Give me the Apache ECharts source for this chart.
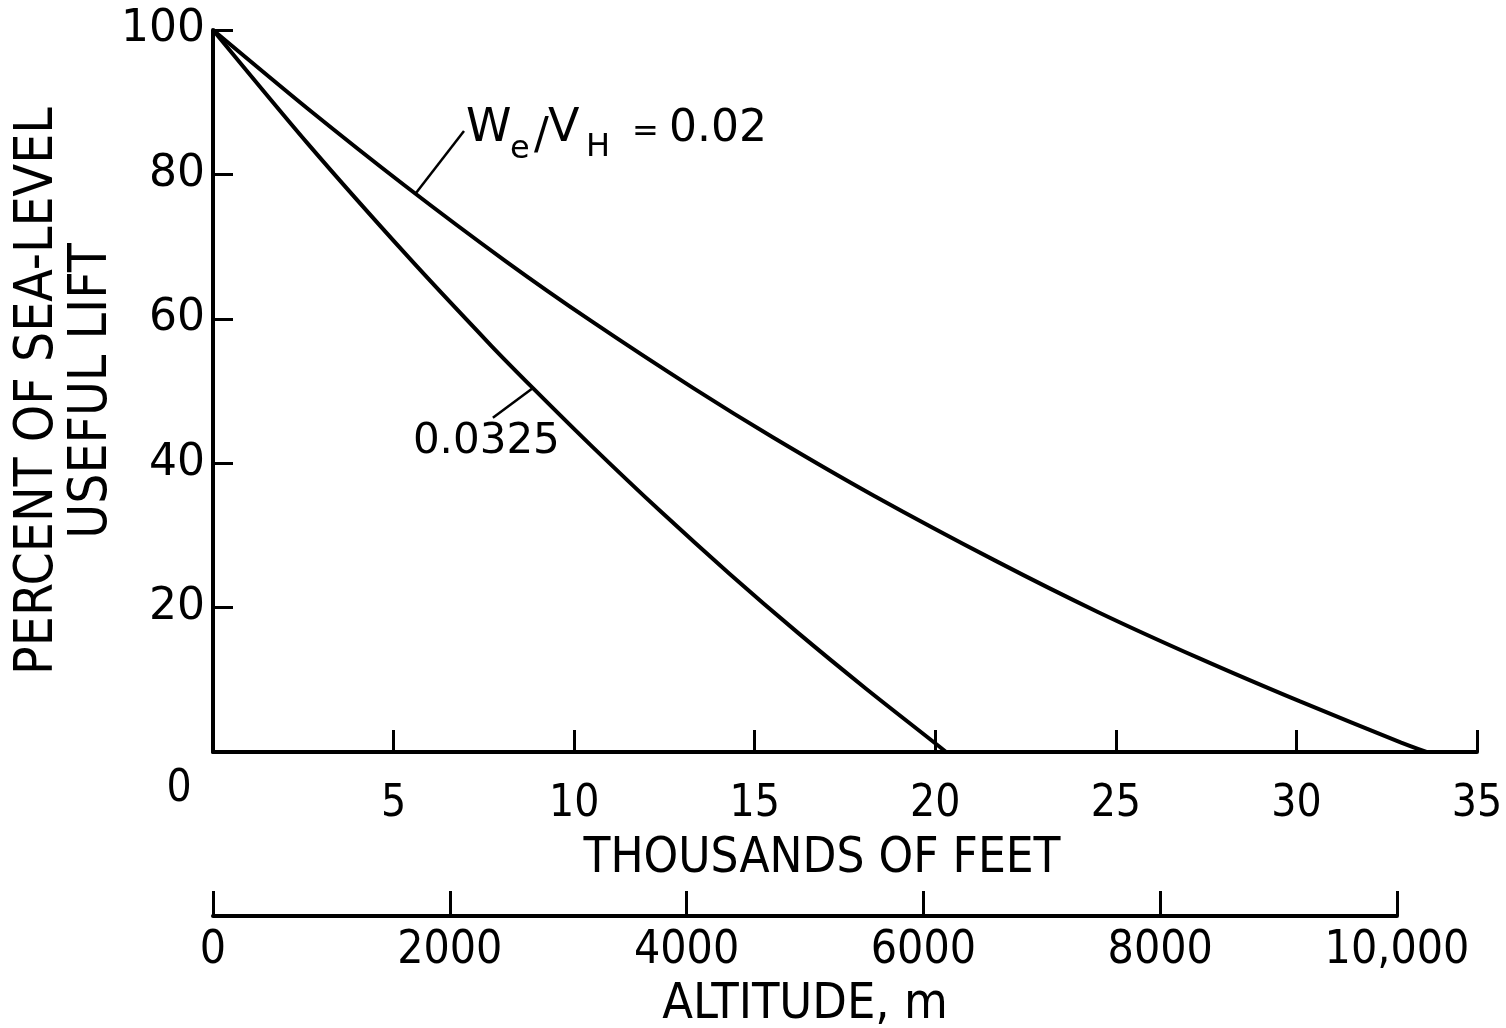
<!DOCTYPE html>
<html>
<head>
<meta charset="utf-8">
<script src="https://cdn.jsdelivr.net/npm/echarts@6/dist/echarts.min.js"></script>
<style>
  html, body { margin: 0; padding: 0; background: #fff; }
  #chart { width: 1506px; height: 1028px; }
</style>
</head>
<body>
<div id="chart"></div>
<script>
// ---- Data (altitude in thousands of feet, % of sea-level useful lift)
const altitude002 = [0, 2.6, 5.3, 8.1, 10.5, 13.3, 15.5, 18.3, 21.7, 24.5, 27.3, 30.1, 32.9, 33.6];
const lift002     = [100, 89.2, 78.5, 68.0, 59.6, 50.4, 43.6, 35.5, 26.4, 19.4, 13.0, 7.0, 1.3, 0];
const altitude0325 = [0, 2.6, 5.4, 7.7, 8.86, 10.5, 12.4, 14.3, 16.2, 18.1, 19.9, 20.3];
const lift0325     = [100, 84.4, 68.6, 56.3, 50.4, 42.3, 33.3, 24.7, 16.5, 8.7, 1.6, 0];

// ---- Axis ticks
const liftTicks = [0, 20, 40, 60, 80, 100];
const feetTicks = [0, 5, 10, 15, 20, 25, 30, 35];
const meterTicks = [0, 2000, 4000, 6000, 8000, 10000];
const meterTickLabels = ['0', '2000', '4000', '6000', '8000', '10,000'];

// ---- Text
const yTitle = 'PERCENT OF SEA-LEVEL\nUSEFUL LIFT';
const feetTitle = 'THOUSANDS OF FEET';
const meterTitle = 'ALTITUDE, m';
const label0325 = '0.0325';

const pairs = (xs, ys) => xs.map((x, i) => [x, ys[i]]);

const NARROW = "'DejaVu Sans Condensed','Liberation Sans Narrow','DejaVu Sans',sans-serif";
const WIDE = "'DejaVu Sans',Verdana,sans-serif";
const INK = '#000';

const chart = echarts.init(document.getElementById('chart'), null, { renderer: 'canvas' });

const option = {
  backgroundColor: '#fff',
  animation: false,
  grid: [
    { left: 213, top: 30, width: 1264, height: 722, containLabel: false, outerBoundsMode: 'none' },
    { left: 213, top: 890, width: 1184, height: 26, containLabel: false, outerBoundsMode: 'none' }
  ],
  xAxis: [
    {
      gridIndex: 0, type: 'value',
      min: feetTicks[0], max: feetTicks[feetTicks.length - 1], interval: 5,
      axisLine: { show: true, onZero: false, lineStyle: { color: INK, width: 4 } },
      axisTick: { show: true, inside: true, length: 22, lineStyle: { color: INK, width: 3 } },
      axisLabel: { show: true, margin: 31, showMinLabel: false, color: INK, fontSize: 44, fontFamily: NARROW },
      splitLine: { show: false },
      name: feetTitle, nameLocation: 'middle', nameGap: 83,
      nameTextStyle: { color: INK, fontSize: 49, fontFamily: NARROW, padding: [0, 46, 0, 0] }
    },
    {
      gridIndex: 1, type: 'value',
      min: meterTicks[0], max: meterTicks[meterTicks.length - 1], interval: 2000,
      axisLine: { show: true, onZero: false, lineStyle: { color: INK, width: 4 } },
      axisTick: { show: true, inside: true, length: 25, lineStyle: { color: INK, width: 3 } },
      axisLabel: {
        show: true, margin: 12, color: INK, fontSize: 46, fontFamily: NARROW,
        formatter: (v) => { const i = meterTicks.indexOf(v); return i >= 0 ? meterTickLabels[i] : ''; }
      },
      splitLine: { show: false },
      name: meterTitle, nameLocation: 'middle', nameGap: 64,
      nameTextStyle: { color: INK, fontSize: 50, fontFamily: NARROW }
    }
  ],
  yAxis: [
    {
      gridIndex: 0, type: 'value',
      min: liftTicks[0], max: liftTicks[liftTicks.length - 1], interval: 20,
      axisLine: { show: true, onZero: false, lineStyle: { color: INK, width: 4 } },
      axisTick: { show: true, inside: true, length: 20, lineStyle: { color: INK, width: 3 } },
      axisLabel: { show: true, margin: 8, showMinLabel: false, color: INK, fontSize: 44, fontFamily: WIDE },
      splitLine: { show: false },
      name: yTitle, nameLocation: 'middle', nameRotate: 90, nameGap: 94, nameMoveOverlap: false,
      nameTextStyle: { color: INK, fontSize: 53, lineHeight: 54, fontFamily: NARROW, align: 'center' }
    },
    { gridIndex: 1, type: 'value', show: false, min: 0, max: 1 }
  ],
  series: [
    {
      name: 'We/VH = 0.02', type: 'line', xAxisIndex: 0, yAxisIndex: 0,
      data: pairs(altitude002, lift002), smooth: 0.25, showSymbol: false,
      lineStyle: { color: INK, width: 4 }, silent: true
    },
    {
      name: 'We/VH = 0.0325', type: 'line', xAxisIndex: 0, yAxisIndex: 0,
      data: pairs(altitude0325, lift0325), smooth: 0.25, showSymbol: false,
      lineStyle: { color: INK, width: 4 }, silent: true
    }
  ]
};
chart.setOption(option);

// ---- Annotations (leader lines defined in data coordinates)
const leader002 = { from: [5.6, 77.3], to: [6.95, 86.0] };
const leader0325 = { from: [8.86, 50.4], to: [7.75, 46.3] };
const px = (p) => chart.convertToPixel({ gridIndex: 0 }, p);

const a1 = px(leader002.from), b1 = px(leader002.to);
const a2 = px(leader0325.from), b2 = px(leader0325.to);
const origin = px([0, 0]);

const txt = (x, y, text, size, family) => ({
  type: 'text', x: x, y: y, silent: true,
  style: { text: text, fill: INK, font: size + 'px ' + family, textAlign: 'left', textVerticalAlign: 'middle', verticalAlign: 'middle' }
});

chart.setOption({
  graphic: [
    { type: 'line', silent: true, shape: { x1: a1[0], y1: a1[1], x2: b1[0], y2: b1[1] }, style: { stroke: INK, lineWidth: 2.5 } },
    { type: 'line', silent: true, shape: { x1: a2[0], y1: a2[1], x2: b2[0], y2: b2[1] }, style: { stroke: INK, lineWidth: 2.5 } },
    // We / VH = 0.02
    txt(b1[0] + 2, b1[1] - 2, 'W', 46, WIDE),
    txt(b1[0] + 46, b1[1] + 19, 'e', 32, WIDE),
    txt(b1[0] + 70, b1[1] + 6, '/', 44, WIDE),
    txt(b1[0] + 84, b1[1] - 2, 'V', 46, WIDE),
    txt(b1[0] + 122, b1[1] + 17, 'H', 32, WIDE),
    txt(b1[0] + 168, b1[1] + 2, '=', 32, WIDE),
    txt(b1[0] + 205, b1[1] - 2, '0.02', 44, WIDE),
    // 0.0325
    txt(b2[0] - 80, b2[1] + 24, label0325, 42, WIDE),
    // corner zero of the feet axis
    { type: 'text', x: origin[0] - 34, y: origin[1] + 38, silent: true,
      style: { text: String(feetTicks[0]), fill: INK, font: '44px ' + NARROW, textAlign: 'center', textVerticalAlign: 'middle', verticalAlign: 'middle' } }
  ]
});
</script>
</body>
</html>
